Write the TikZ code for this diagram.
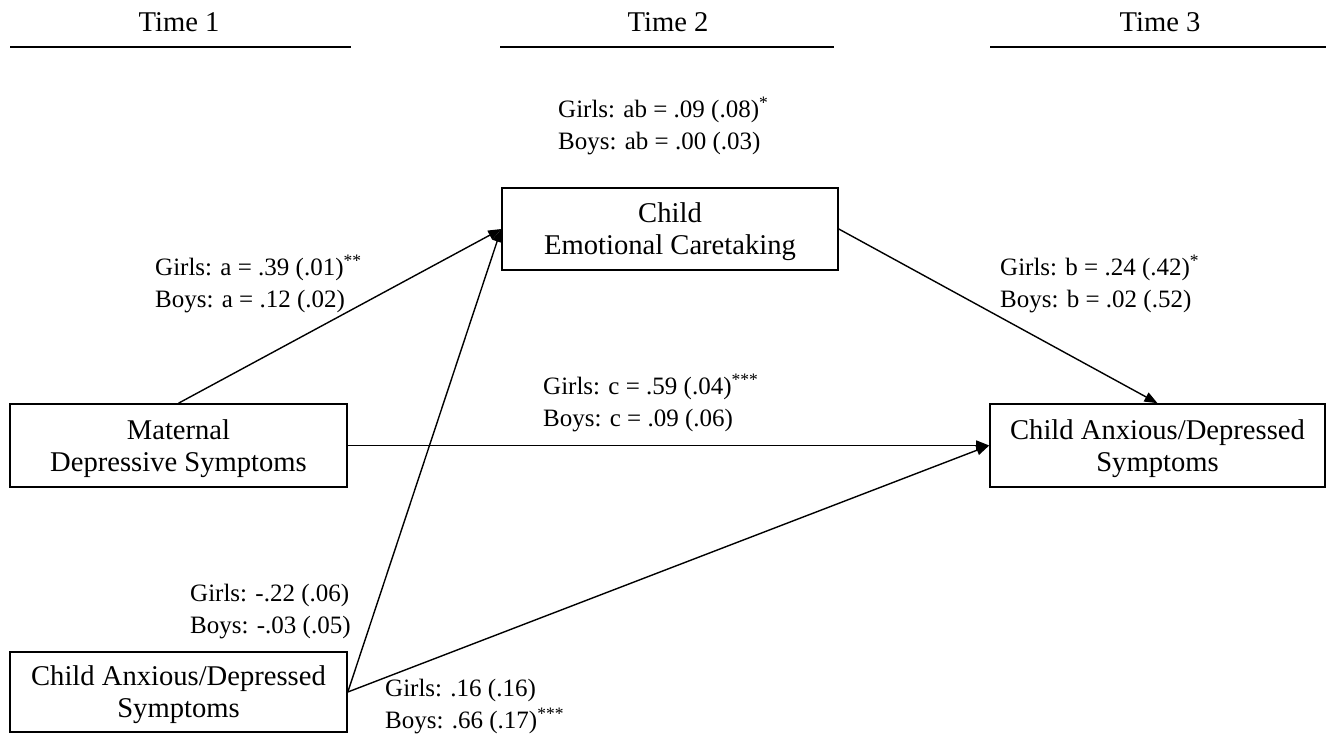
\documentclass[tikz,border=0pt]{standalone}
\usepackage{fontspec}
\setmainfont{Liberation Serif}
\usetikzlibrary{arrows.meta}
\begin{document}
\begin{tikzpicture}[x=1pt,y=-1pt,
  every node/.style={font=\fontsize{28.6}{32}\selectfont},
  box/.style={draw,line width=1.6pt,align=center,inner sep=0pt},
  lbl/.style={anchor=west,align=left,inner sep=0pt,font=\fontsize{25}{32}\selectfont},
  hdr/.style={inner sep=0pt},
  arr/.style={line width=1.4pt,-{Triangle[length=13pt,width=10pt]}},
  rule/.style={line width=2pt}]
\useasboundingbox (0,0) rectangle (1332,737);
% headers
\node[hdr] (h1) at (179,22) {Time 1};
\node[hdr] (h2) at (668,22) {Time 2};
\node[hdr] (h3) at (1160,22) {Time 3};
\draw[rule] (10,47) -- (351,47);
\draw[rule] (500,47) -- (834,47);
\draw[rule] (990,47) -- (1326,47);
% boxes
\node[box,minimum width=336pt,minimum height=82pt] (ect) at (670,229) {\rule{0pt}{26pt}Child\\Emotional Caretaking};
\node[box,minimum width=337pt,minimum height=83pt] (mat) at (178.5,445.5) {\rule{0pt}{26pt}Maternal\\Depressive Symptoms};
\node[box,minimum width=335pt,minimum height=83pt] (t3) at (1157.5,445.5) {\rule{0pt}{26pt}Child Anxious/Depressed\\Symptoms};
\node[box,minimum width=337pt,minimum height=80pt] (t1) at (178.5,692) {\rule{0pt}{26pt}Child Anxious/Depressed\\Symptoms};
% connectors
\draw[arr] (mat.north) -- (ect.west);
\draw[arr] (t1.east) -- (ect.west);
\draw[arr] (ect.east) -- (t3.north);
\draw[arr] (mat.east) -- (t3.west);
\draw[arr] (t1.east) -- (t3.west);
% labels
\node[lbl] (lab) at (558,126) {Girls: ab = .09 (.08)\textsuperscript{*}\\Boys: ab = .00 (.03)};
\node[lbl] (la) at (155,284) {Girls: a = .39 (.01)\textsuperscript{**}\\Boys: a = .12 (.02)};
\node[lbl] (lb) at (1000,284) {Girls: b = .24 (.42)\textsuperscript{*}\\Boys: b = .02 (.52)};
\node[lbl] (lc) at (543,403) {Girls: c = .59 (.04)\textsuperscript{***}\\Boys: c = .09 (.06)};
\node[lbl] (lt1) at (190,612) {Girls: -.22 (.06)\\Boys: -.03 (.05)};
\node[lbl] (lt2) at (385,707) {Girls: .16 (.16)\\Boys: .66 (.17)\textsuperscript{***}};
\end{tikzpicture}
\end{document}
